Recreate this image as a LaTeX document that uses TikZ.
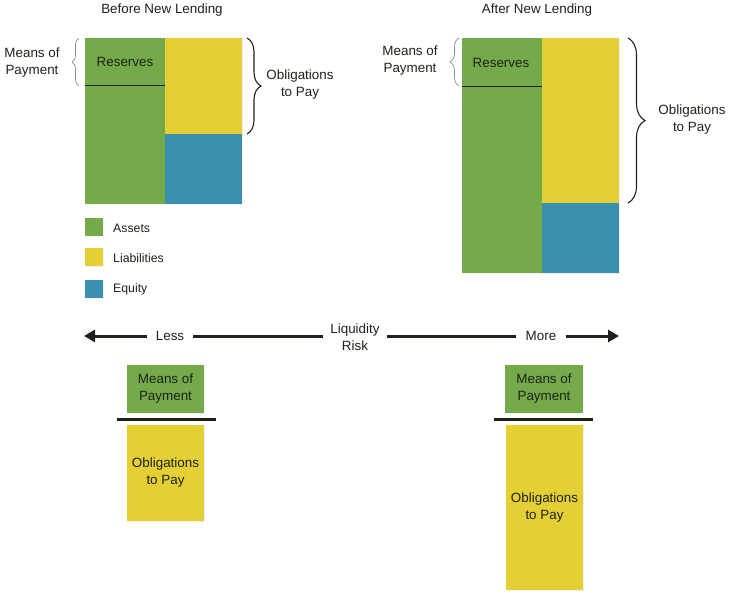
\documentclass[tikz,border=0pt]{standalone}
\usepackage{fontspec}
\setmainfont{Liberation Sans}
\usetikzlibrary{arrows.meta,decorations.pathreplacing,shadows}
\definecolor{assetgreen}{HTML}{74AA4A}
\definecolor{liabyellow}{HTML}{E4D035}
\definecolor{equityblue}{HTML}{3A91AF}
\definecolor{inkdark}{HTML}{1E2218}
\begin{document}
\begin{tikzpicture}[x=1pt,y=-1pt,
  font=\fontsize{13.4}{17}\selectfont,
  every node/.style={text=inkdark},
  block/.style={inner sep=0pt, outer sep=0pt, anchor=north west,
    drop shadow={opacity=0.12, shadow xshift=1pt, shadow yshift=-1.2pt}},
  lbl/.style={align=center, inner sep=1pt},
  legtext/.style={anchor=west, inner sep=0pt, font=\fontsize{12.3}{15}\selectfont},
  thinbrace/.style={draw=black!45, line width=0.7pt, decorate, decoration={brace, amplitude=#1}},
  darkbrace/.style={draw=inkdark, line width=1.1pt, decorate, decoration={brace, amplitude=#1}},
  axisline/.style={draw=inkdark, line width=3pt},
  axisarrow/.style={draw=inkdark, line width=3pt, -{Triangle[length=11pt,width=12pt]}},
  sepline/.style={draw=inkdark, line width=3pt},
]
\useasboundingbox (0,0) rectangle (733,597);

% ---------- Before New Lending ----------
\node[lbl] (titleB) at (162,10) {Before New Lending};
\node[block, fill=assetgreen, minimum width=80pt, minimum height=166pt] (assetsB) at (85,38) {};
\node[block, fill=liabyellow, minimum width=77pt, minimum height=96pt] (liabB) at (165,38) {};
\node[block, fill=equityblue, minimum width=77pt, minimum height=70pt] (equityB) at (165,134) {};
\draw[draw=inkdark, line width=0.8pt] (85,85) -- (165,85);
\node[lbl] (resB) at (125,62) {Reserves};
\draw[thinbrace=7pt] (79,86) -- (79,38);
\node[lbl] (mopB) at (32,63) {Means of\\Payment};
\draw[darkbrace=14pt] (247,38) -- (247,134);
\node[lbl] (otpB) at (300,85) {Obligations\\to Pay};

% ---------- legend ----------
\node[block, fill=assetgreen, minimum width=18pt, minimum height=18pt] (legA) at (85,218) {};
\node[block, fill=liabyellow, minimum width=18pt, minimum height=18pt] (legL) at (85,248) {};
\node[block, fill=equityblue, minimum width=18pt, minimum height=18pt] (legE) at (85,280) {};
\node[legtext] (legAt) at (113,228) {Assets};
\node[legtext] (legLt) at (113,258) {Liabilities};
\node[legtext] (legEt) at (113,289) {Equity};

% ---------- After New Lending ----------
\node[lbl] (titleA) at (537,10) {After New Lending};
\node[block, fill=assetgreen, minimum width=80pt, minimum height=235pt] (assetsA) at (462,38) {};
\node[block, fill=liabyellow, minimum width=77pt, minimum height=165pt] (liabA) at (542,38) {};
\node[block, fill=equityblue, minimum width=77pt, minimum height=70pt] (equityA) at (542,203) {};
\draw[draw=inkdark, line width=0.8pt] (462,86) -- (542,86);
\node[lbl] (resA) at (501,63) {Reserves};
\draw[thinbrace=9pt] (459,86) -- (459,38);
\node[lbl] (mopA) at (410,61) {Means of\\Payment};
\draw[darkbrace=17pt] (628,38) -- (628,203);
\node[lbl] (otpA) at (692,120) {Obligations\\to Pay};

% ---------- Liquidity risk axis ----------
\coordinate (tipL) at (84,336);
\coordinate (tipR) at (619,336);
\node[lbl, inner xsep=9pt] (less) at (170,336) {Less};
\node[lbl, inner xsep=7pt] (liq) at (355,337) {Liquidity\\Risk};
\node[lbl, inner xsep=10pt] (more) at (541,336) {More};
\draw[axisarrow] (less.west |- tipL) -- (tipL);
\draw[axisline] (less.east |- tipL) -- (liq.west |- tipL);
\draw[axisline] (liq.east |- tipL) -- (more.west |- tipL);
\draw[axisarrow] (more.east |- tipL) -- (tipR);

% ---------- bottom comparison ----------
\node[block, fill=assetgreen, minimum width=77pt, minimum height=48pt] (mopL) at (127,365) {};
\node[lbl] (mopLt) at (mopL.center) {Means of\\Payment};
\draw[sepline] (117,419) -- (216,419);
\node[block, fill=liabyellow, minimum width=77pt, minimum height=96pt] (otpL) at (127,425) {};
\node[lbl] (otpLt) at (otpL.center) {Obligations\\to Pay};

\node[block, fill=assetgreen, minimum width=78pt, minimum height=48pt] (mopR) at (505,365) {};
\node[lbl] (mopRt) at (mopR.center) {Means of\\Payment};
\draw[sepline] (494,419) -- (593,419);
\node[block, fill=liabyellow, minimum width=77pt, minimum height=165pt] (otpR) at (506,425) {};
\node[lbl] (otpRt) at (otpR.center) {Obligations\\to Pay};
\end{tikzpicture}
\end{document}
